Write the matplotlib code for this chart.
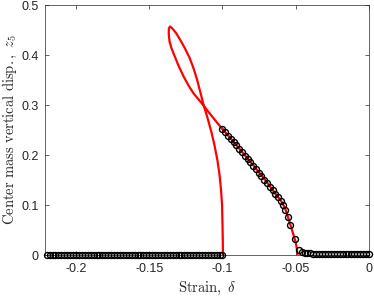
import matplotlib
matplotlib.use("Agg")
import matplotlib.pyplot as plt
import numpy as np

plt.rcParams["mathtext.fontset"] = "cm"
plt.rcParams["font.family"] = ["Liberation Sans", "DejaVu Sans"]
plt.rcParams["axes.unicode_minus"] = False

# red continuation curve: loop branch (from delta=-0.1 up and back)
loop_x = [-0.0997, -0.0998, -0.1000, -0.1003, -0.1010, -0.1020, -0.1035, -0.1055,
          -0.1075, -0.1100, -0.1127, -0.1150, -0.1172, -0.1196, -0.1224, -0.1256,
          -0.1288, -0.1317, -0.1342, -0.1358, -0.1366, -0.1367, -0.1362, -0.1350,
          -0.1334, -0.1302, -0.1267, -0.1232, -0.1197, -0.1160, -0.1127, -0.1095,
          -0.1065, -0.1035, -0.1000]
loop_y = [0.000, 0.030, 0.060, 0.100, 0.130, 0.160, 0.190, 0.220,
          0.245, 0.272, 0.298, 0.324, 0.349, 0.372, 0.394, 0.413,
          0.430, 0.444, 0.453, 0.457, 0.453, 0.443, 0.428, 0.415,
          0.403, 0.380, 0.358, 0.339, 0.323, 0.310, 0.298, 0.286,
          0.275, 0.264, 0.252]

# red curve: descending branch
branch_x = [-0.1000, -0.0900, -0.0800, -0.0700, -0.0640, -0.0602, -0.0586, -0.0570,
            -0.0554, -0.0536, -0.0515, -0.0500, -0.0492, -0.0488]
branch_y = [0.252, 0.218, 0.183, 0.147, 0.123, 0.109, 0.101, 0.091,
            0.077, 0.060, 0.040, 0.025, 0.012, 0.000]

# simulation points (circles)
sim_left_x = [-0.220, -0.218, -0.216, -0.214, -0.212, -0.210, -0.208, -0.206, -0.204, -0.202,
              -0.200, -0.198, -0.196, -0.194, -0.192, -0.190, -0.188, -0.186, -0.184, -0.182,
              -0.180, -0.178, -0.176, -0.174, -0.172, -0.170, -0.168, -0.166, -0.164, -0.162,
              -0.160, -0.158, -0.156, -0.154, -0.152, -0.150, -0.148, -0.146, -0.144, -0.142,
              -0.140, -0.138, -0.136, -0.134, -0.132, -0.130, -0.128, -0.126, -0.124, -0.122,
              -0.120, -0.118, -0.116, -0.114, -0.112, -0.110, -0.108, -0.106, -0.104, -0.102,
              -0.100]
sim_left_y = [0.0] * len(sim_left_x)

sim_mid_x = [-0.1000, -0.0981, -0.0962, -0.0943, -0.0924, -0.0905, -0.0886, -0.0867,
             -0.0848, -0.0829, -0.0810, -0.0791, -0.0772, -0.0753, -0.0734, -0.0715,
             -0.0696, -0.0677, -0.0658, -0.0639, -0.0620, -0.0602, -0.0586, -0.0570,
             -0.0554, -0.0536, -0.0503, -0.0476]
sim_mid_y = [0.252, 0.246, 0.239, 0.233, 0.226, 0.220, 0.213, 0.206,
             0.199, 0.193, 0.186, 0.179, 0.172, 0.165, 0.158, 0.151,
             0.144, 0.137, 0.130, 0.123, 0.117, 0.109, 0.101, 0.091,
             0.077, 0.060, 0.032, 0.011]

sim_right_x = [-0.046, -0.044, -0.042, -0.040, -0.038, -0.036, -0.034, -0.032,
               -0.030, -0.028, -0.026, -0.024, -0.022, -0.020, -0.018, -0.016,
               -0.014, -0.012, -0.010, -0.008, -0.006, -0.004, -0.002, 0.000]
sim_right_y = [0.006, 0.005, 0.004, 0.0035, 0.003, 0.003, 0.0028, 0.0026,
               0.0025, 0.0024, 0.0023, 0.0022, 0.0021, 0.002, 0.002, 0.0019,
               0.0018, 0.0018, 0.0017, 0.0016, 0.0016, 0.0015, 0.0015, 0.0015]

xticks = [-0.2, -0.15, -0.1, -0.05, 0]
xticklabels = ["-0.2", "-0.15", "-0.1", "-0.05", "0"]
yticks = [0, 0.1, 0.2, 0.3, 0.4, 0.5]
yticklabels = ["0", "0.1", "0.2", "0.3", "0.4", "0.5"]

fig = plt.figure(figsize=(3.74, 2.96), dpi=100)
ax = fig.add_axes([0.119, 0.1385, 0.8676, 0.8446])

ax.plot(loop_x, loop_y, color="red", lw=1.6, zorder=2)
ax.plot(branch_x, branch_y, color="red", lw=1.6, zorder=2)

sim_x = sim_left_x + sim_mid_x + sim_right_x
sim_y = sim_left_y + sim_mid_y + sim_right_y
ax.plot(sim_x, sim_y, linestyle="none", marker="o", markersize=4.3,
        markerfacecolor="none", markeredgecolor="black", markeredgewidth=1.0,
        zorder=3, clip_on=False)

ax.set_xlim(-0.2215, 0)
ax.set_ylim(0, 0.5)
ax.set_xticks(xticks)
ax.set_xticklabels(xticklabels)
ax.set_yticks(yticks)
ax.set_yticklabels(yticklabels)

ax.tick_params(direction="in", length=3, width=0.5, colors="#262626",
               labelsize=9, top=True, right=True)
ax.tick_params(axis="x", pad=6)
ax.tick_params(axis="y", pad=4)
for s in ax.spines.values():
    s.set_color("#262626")
    s.set_linewidth(0.5)

ax.set_xlabel(r"$\mathrm{Strain},\ \delta$", fontsize=10.5, color="#262626", labelpad=3)
ax.set_ylabel(r"$\mathrm{Center\ mass\ vertical\ disp.},\ z_5$", fontsize=10.5,
              color="#262626", labelpad=2)

fig.savefig("out.png", dpi=100)
